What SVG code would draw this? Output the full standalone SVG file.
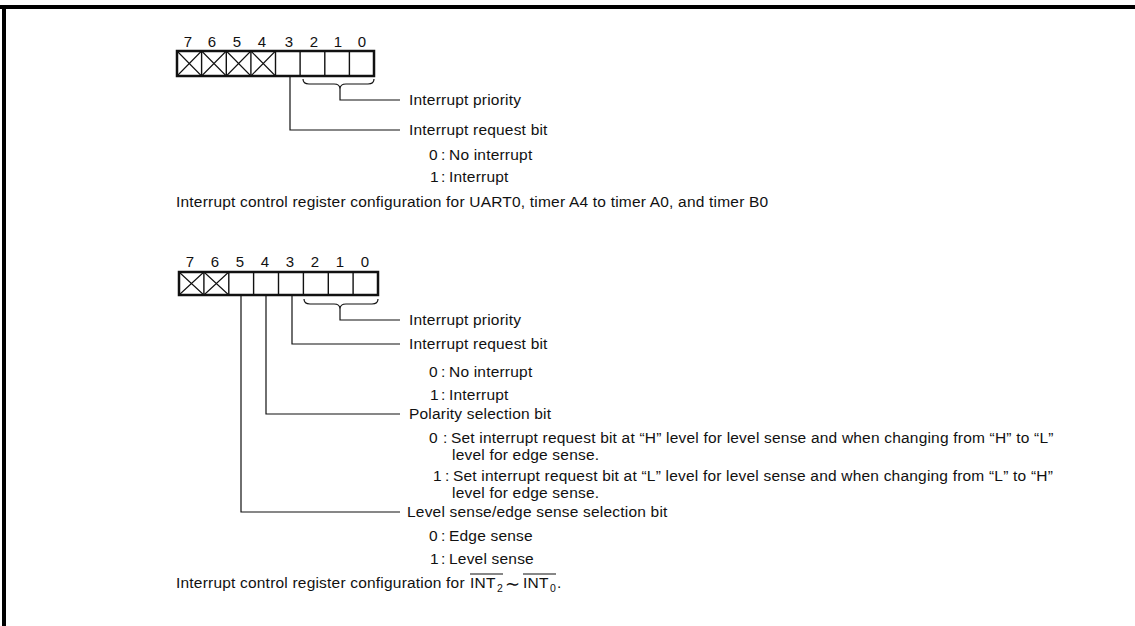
<svg xmlns="http://www.w3.org/2000/svg" width="1135" height="626" viewBox="0 0 1135 626">
<style>
text{font-family:"Liberation Sans",Arial,sans-serif;font-size:15.5px;letter-spacing:0.2px;fill:#111}
.d{font-size:15px;text-anchor:middle;letter-spacing:0}
.sub{font-size:10.5px}
.frame{stroke:#000;stroke-width:4;fill:none}
.outer{stroke:#111;stroke-width:2.5;fill:#fff}
.div{stroke:#111;stroke-width:1.4}
.x{stroke:#111;stroke-width:1.1}
.c{stroke:#111;stroke-width:1.2;fill:none}
</style>
<rect width="1135" height="626" fill="#fff"/>
<g id="frame">
<line class="frame" x1="0" y1="7" x2="1135" y2="7"/>
<line class="frame" x1="4" y1="5" x2="4" y2="626"/>
</g>
<g id="register1">
<text class="d" x="188" y="47">7</text><text class="d" x="212" y="47">6</text><text class="d" x="237" y="47">5</text><text class="d" x="262" y="47">4</text><text class="d" x="289" y="47">3</text><text class="d" x="314" y="47">2</text><text class="d" x="338" y="47">1</text><text class="d" x="362" y="47">0</text>
<rect class="outer" x="177" y="51" width="197" height="25"/>
<path class="div" d="M201.6 51V76M226.3 51V76M250.9 51V76M275.5 51V76M300.1 51V76M324.8 51V76M349.4 51V76"/>
<path class="x" d="M177 51L201.6 76M201.6 51L177 76M201.6 51L226.3 76M226.3 51L201.6 76M226.3 51L250.9 76M250.9 51L226.3 76M250.9 51L275.5 76M275.5 51L250.9 76"/>
</g>
<g id="labels1">
<text x="409" y="105">Interrupt priority</text>
<text x="409" y="135">Interrupt request bit</text>
<text x="429" y="160">0</text><text x="441" y="160">:</text><text x="449" y="160">No interrupt</text>
<text x="430" y="182">1</text><text x="441" y="182">:</text><text x="449" y="182">Interrupt</text>
<text x="176" y="207">Interrupt control register configuration for UART0, timer A4 to timer A0, and timer B0</text>
</g>
<g id="register2">
<text class="d" x="190" y="267">7</text><text class="d" x="215" y="267">6</text><text class="d" x="240" y="267">5</text><text class="d" x="265" y="267">4</text><text class="d" x="290" y="267">3</text><text class="d" x="315" y="267">2</text><text class="d" x="340" y="267">1</text><text class="d" x="365" y="267">0</text>
<rect class="outer" x="179" y="272" width="199" height="23"/>
<path class="div" d="M203.9 272V295M228.8 272V295M253.6 272V295M278.5 272V295M303.4 272V295M328.3 272V295M353.1 272V295"/>
<path class="x" d="M179 272L203.9 295M203.9 272L179 295M203.9 272L228.8 295M228.8 272L203.9 295"/>
</g>
<g id="labels2">
<text x="409" y="325">Interrupt priority</text>
<text x="409" y="349">Interrupt request bit</text>
<text x="429" y="377">0</text><text x="441" y="377">:</text><text x="449" y="377">No interrupt</text>
<text x="430" y="400">1</text><text x="441" y="400">:</text><text x="449" y="400">Interrupt</text>
<text x="409" y="419">Polarity selection bit</text>
<text x="429" y="443">0</text><text x="443" y="443">:</text><text x="451" y="443">Set interrupt request bit at “H” level for level sense and when changing from “H” to “L”</text>
<text x="452" y="460">level for edge sense.</text>
<text x="433" y="481">1</text><text x="445" y="481">:</text><text x="453" y="481">Set interrupt request bit at “L” level for level sense and when changing from “L” to “H”</text>
<text x="452" y="498">level for edge sense.</text>
<text x="407" y="517">Level sense/edge sense selection bit</text>
<text x="429" y="541">0</text><text x="441" y="541">:</text><text x="449" y="541">Edge sense</text>
<text x="430" y="564">1</text><text x="441" y="564">:</text><text x="449" y="564">Level sense</text>
<text x="176" y="588">Interrupt control register configuration for</text>
<text x="470" y="588">INT</text><text class="sub" x="497" y="592">2</text>
<text x="505" y="590" style="font-size:18px">∼</text>
<text x="523" y="588">INT</text><text class="sub" x="550" y="592">0</text>
<text x="557" y="588">.</text>
<path class="c" d="M470 574H503M523 574H556"/>
</g>
<g id="connectors">
<path class="c" d="M290 76V130H400"/>
<path class="c" d="M303 79Q303 84 309 84H334Q340 84 340 89Q340 84 346 84H368Q374 84 374 79"/>
<path class="c" d="M340 89V100H400"/>
<path class="c" d="M304 299Q304 304 310 304H334Q340 304 340 309Q340 304 346 304H372Q378 304 378 299"/>
<path class="c" d="M340 309V320H400"/>
<path class="c" d="M292 295V344H400"/>
<path class="c" d="M266 295V414H400"/>
<path class="c" d="M241 295V512H400"/>
</g>
</svg>
